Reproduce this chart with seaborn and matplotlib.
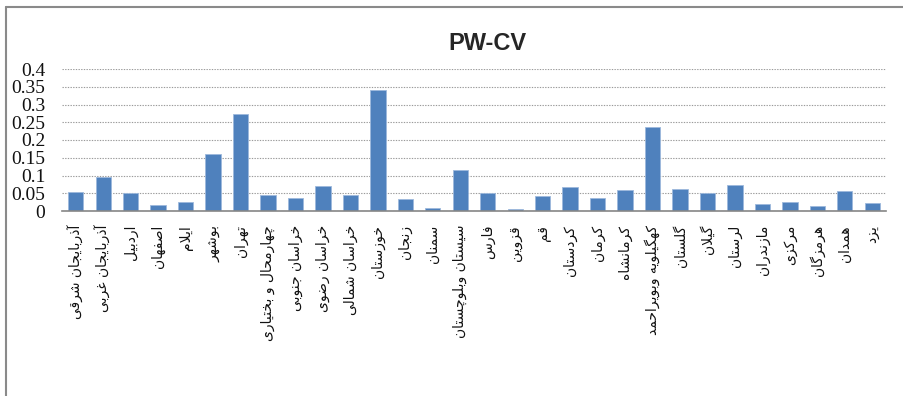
import matplotlib
matplotlib.use("Agg")
import matplotlib.pyplot as plt
from matplotlib.lines import Line2D
import seaborn as sns
import pandas as pd

# Provinces and their PW-CV values
provinces = [
    "آذربایجان شرقی", "آذربایجان غربی", "اردبیل", "اصفهان", "ایلام",
    "بوشهر", "تهران", "چهارمحال و بختیاری", "خراسان جنوبی", "خراسان رضوی",
    "خراسان شمالی", "خوزستان", "زنجان", "سمنان", "سیستان وبلوچستان",
    "فارس", "قزوین", "قم", "کردستان", "کرمان",
    "کرمانشاه", "کهگیلویه وبویراحمد", "گلستان", "گیلان", "لرستان",
    "مازندران", "مرکزی", "هرمزگان", "همدان", "یزد",
]
pw_cv = [
    0.053, 0.096, 0.050, 0.016, 0.025,
    0.160, 0.272, 0.046, 0.036, 0.071,
    0.045, 0.342, 0.034, 0.008, 0.116,
    0.051, 0.007, 0.041, 0.069, 0.037,
    0.059, 0.236, 0.063, 0.050, 0.072,
    0.020, 0.025, 0.015, 0.057, 0.023,
]
y_ticks = [0, 0.05, 0.1, 0.15, 0.2, 0.25, 0.3, 0.35, 0.4]
y_tick_labels = ["0", "0.05", "0.1", "0.15", "0.2", "0.25", "0.3", "0.35", "0.4"]
title = "PW-CV"

# --- minimal Arabic-script shaping (matplotlib has no complex text layout) ---
# letter: (isolated, final, initial, medial); right-joining letters have 2 forms
FORMS = {
    "ا": (0xFE8D, 0xFE8E), "آ": (0xFE81, 0xFE82),
    "د": (0xFEA9, 0xFEAA), "ذ": (0xFEAB, 0xFEAC),
    "ر": (0xFEAD, 0xFEAE), "ز": (0xFEAF, 0xFEB0),
    "ژ": (0xFB8A, 0xFB8B), "و": (0xFEED, 0xFEEE),
    "ب": (0xFE8F, 0xFE90, 0xFE91, 0xFE92),
    "پ": (0xFB56, 0xFB57, 0xFB58, 0xFB59),
    "ت": (0xFE95, 0xFE96, 0xFE97, 0xFE98),
    "ث": (0xFE99, 0xFE9A, 0xFE9B, 0xFE9C),
    "ج": (0xFE9D, 0xFE9E, 0xFE9F, 0xFEA0),
    "چ": (0xFB7A, 0xFB7B, 0xFB7C, 0xFB7D),
    "ح": (0xFEA1, 0xFEA2, 0xFEA3, 0xFEA4),
    "خ": (0xFEA5, 0xFEA6, 0xFEA7, 0xFEA8),
    "س": (0xFEB1, 0xFEB2, 0xFEB3, 0xFEB4),
    "ش": (0xFEB5, 0xFEB6, 0xFEB7, 0xFEB8),
    "ص": (0xFEB9, 0xFEBA, 0xFEBB, 0xFEBC),
    "ض": (0xFEBD, 0xFEBE, 0xFEBF, 0xFEC0),
    "ط": (0xFEC1, 0xFEC2, 0xFEC3, 0xFEC4),
    "ظ": (0xFEC5, 0xFEC6, 0xFEC7, 0xFEC8),
    "ع": (0xFEC9, 0xFECA, 0xFECB, 0xFECC),
    "غ": (0xFECD, 0xFECE, 0xFECF, 0xFED0),
    "ف": (0xFED1, 0xFED2, 0xFED3, 0xFED4),
    "ق": (0xFED5, 0xFED6, 0xFED7, 0xFED8),
    "ک": (0xFB8E, 0xFB8F, 0xFB90, 0xFB91),
    "گ": (0xFB92, 0xFB93, 0xFB94, 0xFB95),
    "ل": (0xFEDD, 0xFEDE, 0xFEDF, 0xFEE0),
    "م": (0xFEE1, 0xFEE2, 0xFEE3, 0xFEE4),
    "ن": (0xFEE5, 0xFEE6, 0xFEE7, 0xFEE8),
    "ه": (0xFEE9, 0xFEEA, 0xFEEB, 0xFEEC),
    "ی": (0xFBFC, 0xFBFD, 0xFBFE, 0xFBFF),
}
LAM_ALEF = {"ا": (0xFEFB, 0xFEFC), "آ": (0xFEF5, 0xFEF6)}


def shape(text):
    # merge lam + alef into one right-joining unit
    units = []
    i = 0
    while i < len(text):
        c = text[i]
        if c == "ل" and i + 1 < len(text) and text[i + 1] in LAM_ALEF:
            units.append(("LA", text[i + 1]))
            i += 2
        else:
            units.append((c, None))
            i += 1

    def forms(u):
        if u[0] == "LA":
            return LAM_ALEF[u[1]]
        return FORMS.get(u[0])

    out = []
    for k, u in enumerate(units):
        f = forms(u)
        if f is None:
            out.append(u[0])
            continue
        prev = forms(units[k - 1]) if k > 0 else None
        nxt = forms(units[k + 1]) if k + 1 < len(units) else None
        join_prev = prev is not None and len(prev) == 4
        join_next = len(f) == 4 and nxt is not None
        if len(f) == 2:
            out.append(chr(f[1] if join_prev else f[0]))
        elif join_prev and join_next:
            out.append(chr(f[3]))
        elif join_prev:
            out.append(chr(f[1]))
        elif join_next:
            out.append(chr(f[2]))
        else:
            out.append(chr(f[0]))
    return "".join(reversed(out))


df = pd.DataFrame({"province": provinces, "value": pw_cv})

sns.set_theme(style="white")
plt.rcParams["font.family"] = ["DejaVu Sans", "Noto Sans"]

W, H = 904, 396
fig = plt.figure(figsize=(W / 100, H / 100), dpi=100)
ax = fig.add_axes([62 / W, 1 - 211 / H, (886 - 62) / W, (211 - 69) / H])

sns.barplot(data=df, x="province", y="value", color="#4F81BD",
            saturation=1, width=0.56, edgecolor="#9DB9DC", linewidth=0.6,
            ax=ax, zorder=3)

ax.set_xlim(-0.5, len(provinces) - 0.5)
ax.set_ylim(0, 0.4)
ax.set_yticks(y_ticks)
ax.set_yticklabels(y_tick_labels, family="Liberation Serif", fontsize=14,
                   color="#111111")
ax.set_xticks(range(len(provinces)))
ax.set_xticklabels([shape(p) for p in provinces], rotation=90,
                   fontsize=10, va="top", ha="center", color="#111111")
ax.tick_params(axis="y", length=0, pad=12)
ax.tick_params(axis="x", length=0, pad=10)
ax.set_xlabel("")
ax.set_ylabel("")

ax.yaxis.grid(True, linestyle=(0, (1.2, 1.2)), color="#9a9a9a", linewidth=0.8, zorder=0)
ax.xaxis.grid(False)
for side in ("left", "top", "right"):
    ax.spines[side].set_visible(False)
ax.spines["bottom"].set_color("#868686")
ax.spines["bottom"].set_linewidth(1.2)
ax.spines["bottom"].set_zorder(4)

fig.text(487 / W, 1 - 43 / H, title, ha="center", va="center",
         family="Liberation Sans", fontweight="bold", fontsize=17)

# chart-area frame (left and top edges)
bx, by = 6.5 / W, 1 - 6.5 / H
fig.add_artist(Line2D([bx, bx], [0, by], transform=fig.transFigure,
                      color="#8a8a8a", linewidth=1.5))
fig.add_artist(Line2D([bx, 1], [by, by], transform=fig.transFigure,
                      color="#8a8a8a", linewidth=1.5))

fig.savefig("out.png", dpi=100)
